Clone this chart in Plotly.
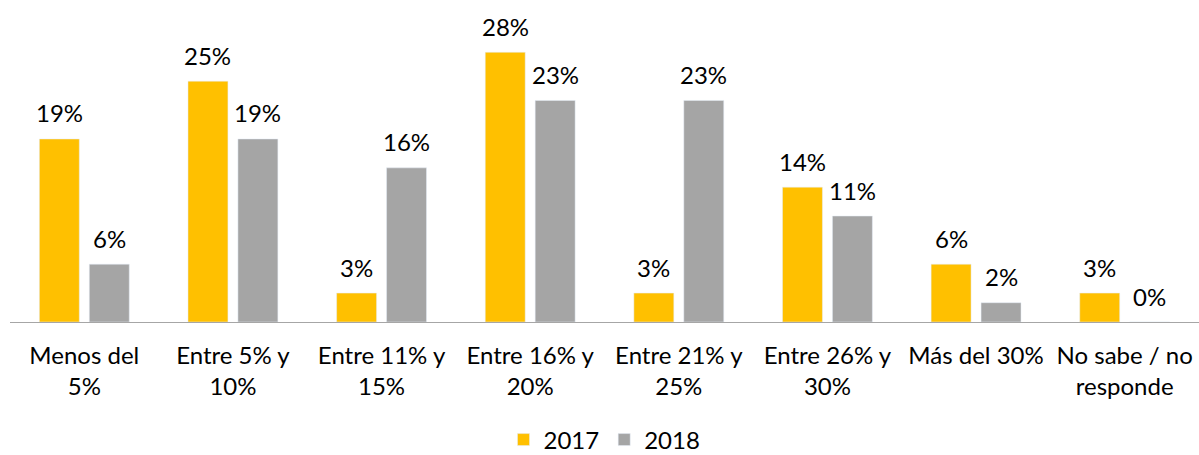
import plotly.graph_objects as go

categories = ["Menos del 5%", "Entre 5% y 10%", "Entre 11% y 15%", "Entre 16% y 20%",
              "Entre 21% y 25%", "Entre 26% y 30%", "Más del 30%", "No sabe / no responde"]
tick_labels = ["Menos del<br>5%", "Entre 5% y<br>10%", "Entre 11% y<br>15%", "Entre 16% y<br>20%",
               "Entre 21% y<br>25%", "Entre 26% y<br>30%", "Más del 30%", "No sabe / no<br>responde"]
values_2017 = [19, 25, 3, 28, 3, 14, 6, 3]
values_2018 = [6, 19, 16, 23, 23, 11, 2, 0]

FONT = "Lato"
fig = go.Figure()
fig.add_trace(go.Bar(x=categories, y=values_2017, name="2017", marker_color="#FFC000"))
fig.add_trace(go.Bar(x=categories, y=values_2018, name="2018", marker_color="#A5A5A5"))

annotations = []
for vals, shift in ((values_2017, -25), (values_2018, 25)):
    for c, v in zip(categories, vals):
        annotations.append(dict(x=c, y=v, text=f"{v}%", showarrow=False, xshift=shift,
                                yanchor="middle", yshift=26,
                                font=dict(family=FONT, size=24, color="#000000")))

fig.update_layout(
    width=1199, height=455,
    margin=dict(l=10, r=0, t=33, b=133, autoexpand=False),
    paper_bgcolor="white", plot_bgcolor="white",
    barmode="group", bargap=0.328, bargroupgap=0.2,
    font=dict(family=FONT, size=24, color="#000000"),
    showlegend=True,
    legend=dict(orientation="h", x=0.5, xanchor="center", yref="container", y=0.033,
                yanchor="middle", font=dict(family=FONT, size=24), itemwidth=30,
                traceorder="normal"),
    annotations=annotations,
)
fig.update_xaxes(tickvals=categories, ticktext=tick_labels, showline=True, linecolor="#A6A6A6",
                 linewidth=1, ticks="outside", ticklen=12, tickcolor="rgba(0,0,0,0)",
                 showgrid=False, tickangle=0, automargin=False)
fig.update_yaxes(range=[0, 30], visible=False, showgrid=False, zeroline=False)
fig.write_html("out.html", config={"displayModeBar": False},
               post_script="document.body.style.margin='0';document.body.style.overflow='hidden';")
